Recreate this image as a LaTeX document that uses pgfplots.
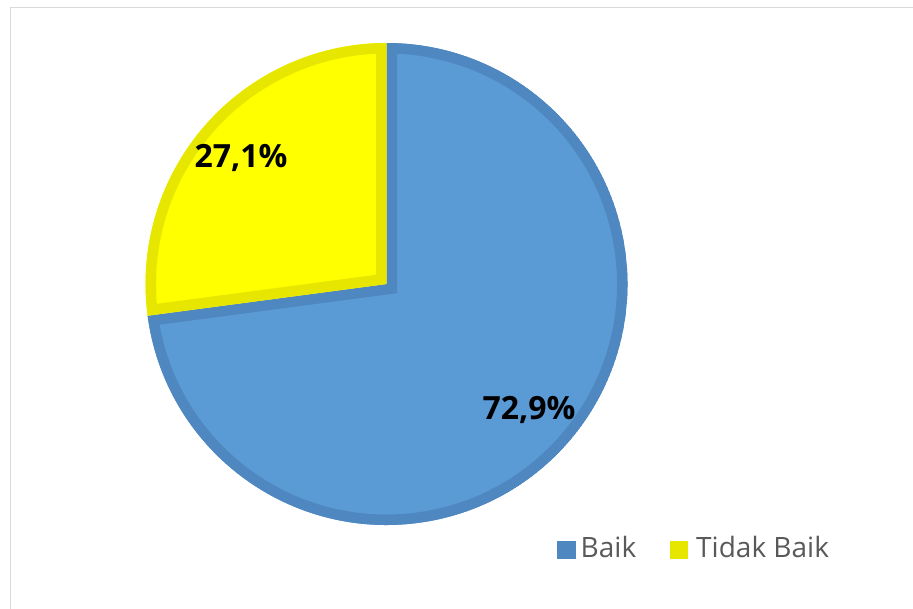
\documentclass[border=0pt]{standalone}
\usepackage{pgfplots}
\pgfplotsset{compat=1.18}
\usepackage{pgfplotstable}
\usepackage{fontspec}
\setmainfont{Open Sans}
\definecolor{bfill}{HTML}{5B9BD5}
\definecolor{bedge}{HTML}{4F88C0}
\definecolor{yfill}{HTML}{FFFF00}
\definecolor{yedge}{HTML}{E6E600}
\definecolor{framec}{HTML}{D9D9D9}
\definecolor{legtext}{HTML}{595959}

\pgfplotstableread{
label value
Baik 72.9
TidakBaik 27.1
}\piedata

\pgfplotstablegetelem{0}{value}\of\piedata \let\vBaik\pgfplotsretval
\pgfplotstablegetelem{1}{value}\of\piedata \let\vTidak\pgfplotsretval
\pgfmathsetmacro\angSplit{90+3.6*\vTidak}
\def\cx{386.5}
\def\cy{324}
\def\R{241}

\newcommand{\pieslice}[4]{%
  \begin{scope}
    \clip (axis cs:\cx,\cy) -- ++(#1:\R pt) arc[start angle=#1,end angle=#2,radius=\R pt] -- cycle;
    \draw[line width=21pt, draw=#4, fill=#3, line join=miter]
      (axis cs:\cx,\cy) -- ++(#1:\R pt) arc[start angle=#1,end angle=#2,radius=\R pt] -- cycle;
  \end{scope}}

\begin{document}
\begin{tikzpicture}[x=1pt,y=1pt]
\useasboundingbox (0,0) rectangle (913,608);
\draw[framec, line width=1.5pt] (10.5,-20) -- (10.5,600.5) -- (930,600.5);
\begin{axis}[
  at={(0,0)}, anchor=south west,
  scale only axis, width=913pt, height=608pt,
  xmin=0, xmax=913, ymin=0, ymax=608,
  hide axis, clip=false]
  \pieslice{\angSplit}{450}{bfill}{bedge}
  \pieslice{90}{\angSplit}{yfill}{yedge}
  \node[font=\fontsize{32}{38}\selectfont\bfseries] at (axis cs:241,450) {27,1\%};
  \node[font=\fontsize{32}{38}\selectfont\bfseries] at (axis cs:529,198) {72,9\%};
  % legend
  \fill[bedge] (axis cs:557,49) rectangle (axis cs:576,67);
  \node[anchor=base west, inner sep=0pt, text=legtext, font=\fontsize{28}{34}\selectfont] at (axis cs:580.5,50) {Baik};
  \fill[yedge] (axis cs:670,49) rectangle (axis cs:688,67);
  \node[anchor=base west, inner sep=0pt, text=legtext, font=\fontsize{28}{34}\selectfont] at (axis cs:696,50) {Tidak Baik};
\end{axis}
\end{tikzpicture}
\end{document}
